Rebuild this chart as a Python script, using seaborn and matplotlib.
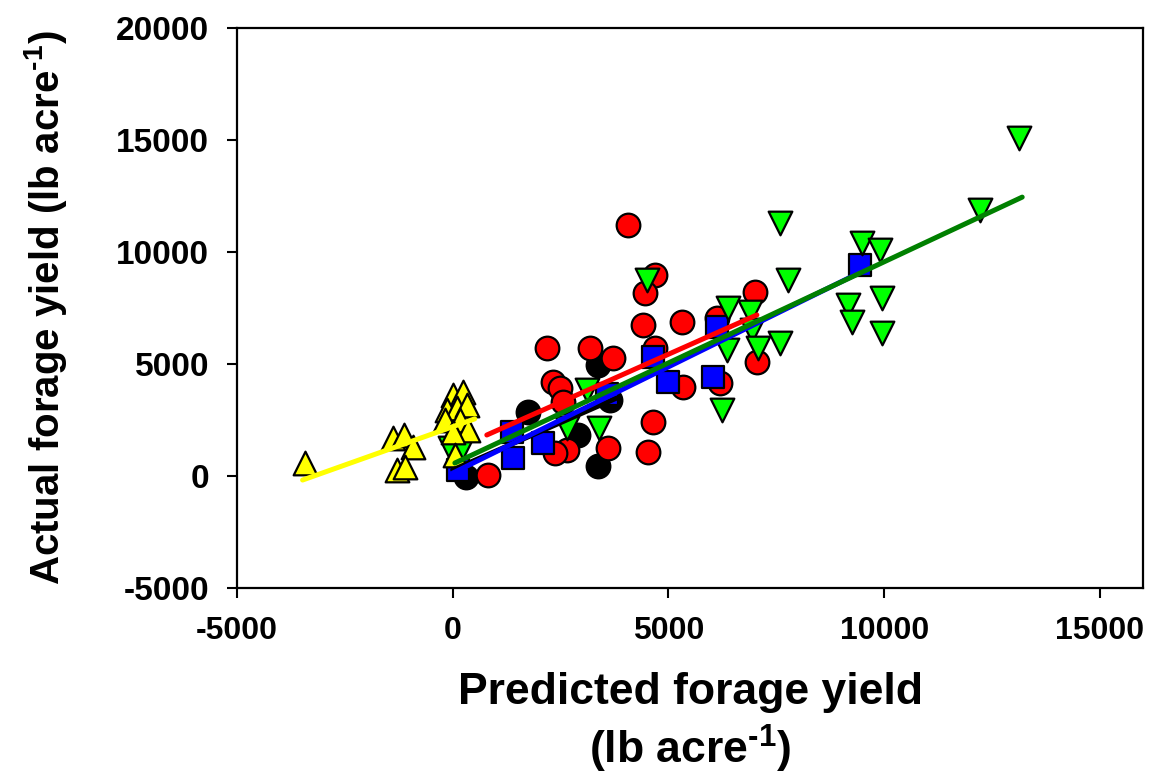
import matplotlib
matplotlib.use("Agg")
import matplotlib.pyplot as plt
import seaborn as sns

# ---- data ----
yellow_x = [-3430, -1390, -1140, -930, -1300, -1110, 0, 230, -140, 90, 320, -190, 160, 350, 0, 50]
yellow_y = [600, 1700, 1830, 1300, 270, 400, 3620, 3750, 2950, 3040, 3170, 2500, 2500, 2050, 1960, 940]

red_x = [4060, 4690, 4460, 4410, 5310, 6130, 7010, 7050, 4690, 3710, 5340, 6200, 4640, 3600, 4520,
         2180, 3180, 2320, 2480, 2550, 2650, 2370, 810]
red_y = [11200, 8970, 8170, 6740, 6880, 7050, 8210, 5090, 5710, 5270, 3970, 4150, 2410, 1250, 1070,
         5710, 5710, 4200, 3930, 3300, 1160, 1030, 50]

black_x = [300, 1740, 2900, 3360, 3360, 3640]
black_y = [-50, 2860, 1830, 4950, 450, 3390]

blue_x = [120, 1390, 1370, 2090, 3570, 4640, 4990, 6030, 6130, 9440]
blue_y = [270, 800, 1960, 1470, 3660, 5310, 4200, 4420, 6650, 9420]

green_x = [-70, 210, 2650, 3380, 3110, 4500, 6240, 6360, 6380, 6890, 6940, 7080, 7590, 7590, 7770,
           9170, 9260, 9490, 9910, 9950, 9950, 12230, 13130]
green_y = [1250, 1250, 2140, 2160, 3840, 8750, 2950, 5630, 7500, 7320, 6520, 5710, 5940, 11300, 8750,
           7630, 6880, 10400, 10090, 7950, 6380, 11880, 15090]

# regression line end points
black_line_x = [0, 3800]
black_line_y = [270, 3480]
blue_line_x = [0, 9560]
blue_line_y = [130, 9200]
green_line_x = [50, 13200]
green_line_y = [580, 12450]
red_line_x = [790, 7050]
red_line_y = [1830, 7190]
yellow_line_x = [-3480, 510]
yellow_line_y = [-180, 2550]

x_ticks = [-5000, 0, 5000, 10000, 15000]
y_ticks = [-5000, 0, 5000, 10000, 15000, 20000]

# ---- style ----
sns.set_style("white")
plt.rcParams["font.family"] = ["Liberation Sans", "DejaVu Sans"]
plt.rcParams["font.weight"] = "bold"
plt.rcParams["text.color"] = "black"
plt.rcParams["axes.labelcolor"] = "black"
plt.rcParams["xtick.color"] = "black"
plt.rcParams["ytick.color"] = "black"
plt.rcParams["mathtext.fontset"] = "custom"
plt.rcParams["mathtext.rm"] = "Liberation Sans:bold"
plt.rcParams["mathtext.bf"] = "Liberation Sans:bold"
plt.rcParams["mathtext.default"] = "bf"

fig = plt.figure(figsize=(11.56, 7.78), dpi=100)
ax = fig.add_axes([237 / 1156, 1 - 588 / 778, (1143 - 237) / 1156, (588 - 28) / 778])

mk = dict(edgecolor="black", linewidth=1.6, legend=False, ax=ax, zorder=3)
sns.scatterplot(x=black_x, y=black_y, color="black", marker="o", s=290, **mk)
sns.scatterplot(x=red_x, y=red_y, color="#FF0000", marker="o", s=290, **mk)
sns.scatterplot(x=blue_x, y=blue_y, color="#0000FF", marker="s", s=230, **mk)
sns.scatterplot(x=green_x, y=green_y, color="#00FF00", marker="v", s=290, **mk)
sns.scatterplot(x=yellow_x, y=yellow_y, color="#FFFF00", marker="^", s=290, **mk)

lk = dict(linewidth=3.6, legend=False, ax=ax, zorder=4)
sns.lineplot(x=black_line_x, y=black_line_y, color="black", **lk)
sns.lineplot(x=blue_line_x, y=blue_line_y, color="#0000FF", **lk)
sns.lineplot(x=green_line_x, y=green_line_y, color="#008000", **lk)
sns.lineplot(x=red_line_x, y=red_line_y, color="#FF0000", **lk)
sns.lineplot(x=yellow_line_x, y=yellow_line_y, color="#FFFF00", **lk)

ax.set_xlim(-5000, 16000)
ax.set_ylim(-5000, 20000)
ax.set_xticks(x_ticks)
ax.set_yticks(y_ticks)
ax.set_xticklabels([str(v) for v in x_ticks], fontsize=23, fontweight="bold")
ax.set_yticklabels([str(v) for v in y_ticks], fontsize=24, fontweight="bold")
ax.tick_params(axis="both", direction="out", length=7, width=1.5, color="black", pad=13,
               bottom=True, left=True, top=False, right=False)
for sp in ax.spines.values():
    sp.set_visible(True)
    sp.set_color("black")
    sp.set_linewidth(1.6)

ax.set_xlabel("Predicted forage yield\n(lb acre$^{\\text{-1}}$)", fontsize=32, fontweight="bold",
              linespacing=1.25, va="top")
ax.xaxis.set_label_coords(0.5, -0.15)
ax.set_ylabel("Actual forage yield (lb acre$^{\\text{-1}}$)", fontsize=29, fontweight="bold")
ax.yaxis.set_label_coords(-0.185, 0.5)

fig.savefig("out.png", dpi=100)
